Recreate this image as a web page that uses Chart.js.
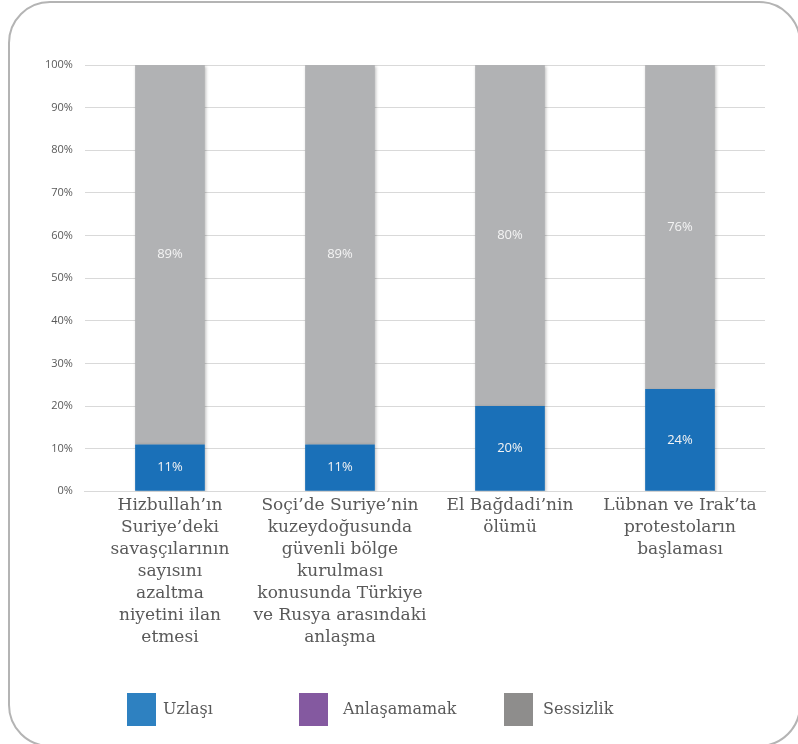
<!DOCTYPE html>
<html>
<head>
<meta charset="utf-8">
<script src="https://cdn.jsdelivr.net/npm/chart.js@4.4.0/dist/chart.umd.min.js"></script>
<style>
  html, body { margin: 0; padding: 0; background: #fff; }
  #wrap { position: relative; width: 798px; height: 744px; overflow: hidden; }
  #frame {
    position: absolute; left: 8px; top: 1px; width: 793px; height: 746px;
    border: 2px solid #b4b4b4; border-radius: 42px; box-sizing: border-box;
  }
  #c { position: absolute; left: 0; top: 0; }
  .lgbox { position: absolute; top: 693px; width: 29px; height: 33px; }
  .lgtxt { position: absolute; top: 693px; height: 33px; line-height: 31px;
           font-family: "DejaVu Serif", serif; font-size: 16px; color: #595959; white-space: nowrap; }
</style>
</head>
<body>
<div id="wrap">
  <div id="frame"></div>
  <canvas id="c" width="798" height="744"></canvas>
  <div id="legend"></div>
</div>
<script>
var categories = [
    ["Hizbullah’ın", "Suriye’deki", "savaşçılarının", "sayısını", "azaltma", "niyetini ilan", "etmesi"],
    ["Soçi’de Suriye’nin", "kuzeydoğusunda", "güvenli bölge", "kurulması", "konusunda Türkiye", "ve Rusya arasındaki", "anlaşma"],
    ["El Bağdadi’nin", "ölümü"],
    ["Lübnan ve Irak’ta", "protestoların", "başlaması"]
];
var uzlasi = [11, 11, 20, 24];
var anlasamamak = [0, 0, 0, 0];
var sessizlik = [89, 89, 80, 76];
var yTicks = [0, 10, 20, 30, 40, 50, 60, 70, 80, 90, 100];

// draws the % values in the middle of each segment
var valueLabels = {
    id: 'valueLabels',
    afterDatasetsDraw: function(chart) {
        var ctx = chart.ctx;
        ctx.save();
        ctx.font = '13px "Open Sans", sans-serif';
        ctx.fillStyle = '#f4f4f4';
        ctx.textAlign = 'center';
        ctx.textBaseline = 'middle';
        chart.data.datasets.forEach(function(ds, i) {
            var meta = chart.getDatasetMeta(i);
            meta.data.forEach(function(bar, j) {
                var v = ds.data[j];
                if (!v) return;
                var mid = (bar.y + bar.base) / 2;
                ctx.fillText(v + '%', bar.x, mid);
            });
        });
        ctx.restore();
    }
};

var barShadow = {
    id: 'barShadow',
    beforeDatasetsDraw: function(chart) {
        var ctx = chart.ctx;
        ctx.save();
        ctx.shadowColor = 'rgba(0,0,0,0.25)';
        ctx.shadowBlur = 3;
        ctx.shadowOffsetX = 1;
        ctx.shadowOffsetY = 1;
    },
    afterDatasetsDraw: function(chart) {
        chart.ctx.restore();
    }
};

var serif = '"DejaVu Serif", serif';

var ctx = document.getElementById('c').getContext('2d');
var myChart = new Chart(ctx, {
    type: 'bar',
    data: {
        labels: categories,
        datasets: [
            { label: 'Uzlaşı', data: uzlasi, backgroundColor: '#1a70b8', legendColor: '#2e81c1' },
            { label: 'Anlaşamamak', data: anlasamamak, backgroundColor: '#8459a0', legendColor: '#8459a0' },
            { label: 'Sessizlik', data: sessizlik, backgroundColor: '#b1b2b4', legendColor: '#8e8d8c' }
        ]
    },
    options: {
        responsive: false,
        animation: false,
        barPercentage: 0.41,
        categoryPercentage: 1.0,
        layout: { padding: { left: 33, right: 33, top: 65, bottom: 92 } },
        scales: {
            x: {
                stacked: true,
                grid: { display: false, drawTicks: false },
                border: { color: '#d9d9d9', width: 1 },
                ticks: {
                    color: '#595959',
                    font: { family: serif, size: 17, lineHeight: 1.3 },
                    padding: 3,
                    maxRotation: 0,
                    autoSkip: false
                }
            },
            y: {
                stacked: true,
                min: 0,
                max: 100,
                afterBuildTicks: function(axis) {
                    axis.ticks = yTicks.map(function(v) { return { value: v }; });
                },
                grid: { color: '#d9d9d9', drawTicks: false },
                border: { display: false },
                ticks: {
                    color: '#595959',
                    font: { family: '"Open Sans", sans-serif', size: 11 },
                    padding: 12,
                    callback: function(v) { return v + '%'; }
                }
            }
        },
        plugins: {
            legend: { display: false },
            tooltip: { enabled: false }
        }
    },
    plugins: [barShadow, valueLabels]
});

// legend built from the datasets, placed like the original
var legendBoxLeft = [127, 299, 504];
var legendTextLeft = [163, 343, 543];
var legendEl = document.getElementById('legend');
myChart.data.datasets.forEach(function(ds, i) {
    var box = document.createElement('div');
    box.className = 'lgbox';
    box.style.left = legendBoxLeft[i] + 'px';
    box.style.background = ds.legendColor;
    legendEl.appendChild(box);
    var txt = document.createElement('div');
    txt.className = 'lgtxt';
    txt.style.left = legendTextLeft[i] + 'px';
    txt.textContent = ds.label;
    legendEl.appendChild(txt);
});
</script>
</body>
</html>
